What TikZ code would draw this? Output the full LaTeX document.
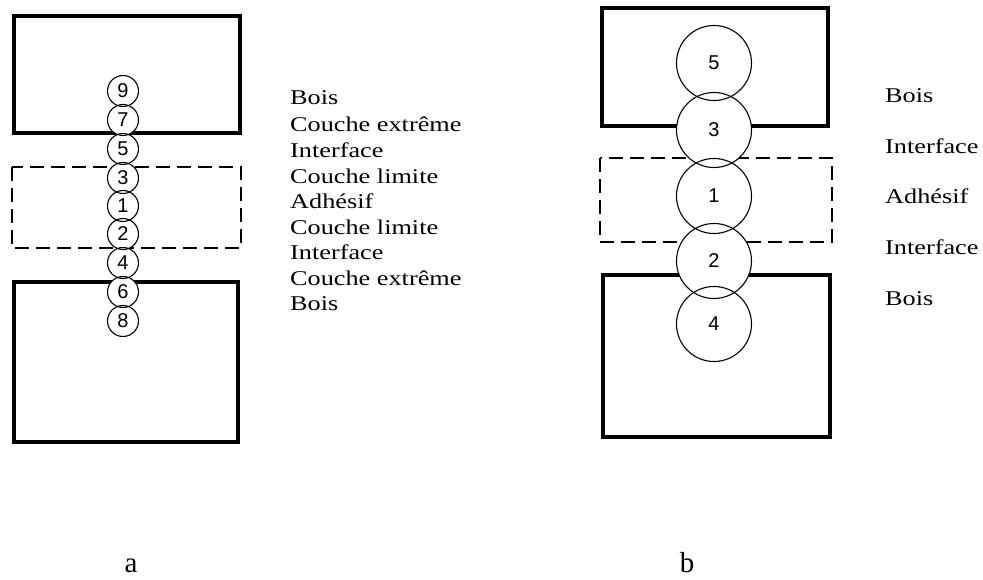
\documentclass[tikz,border=0pt]{standalone}
\usepackage{fontspec}
\setmainfont{Liberation Serif}
\newfontfamily\labfont[FakeStretch=1.25]{Liberation Serif}
\newfontfamily\numfont{Liberation Sans}
\begin{document}
\begin{tikzpicture}[x=1pt,y=-1pt,
  wood/.style={line width=3.2pt},
  adh/.style={line width=1.5pt, dash pattern=on 14pt off 7pt},
  smallc/.style={circle, draw, line width=1.1pt, minimum size=31pt, inner sep=0pt, font=\numfont\fontsize{20}{20}\selectfont},
  bigc/.style={circle, draw, line width=1.1pt, minimum size=75pt, inner sep=0pt, font=\numfont\fontsize{20}{20}\selectfont},
  lab/.style={anchor=west, inner sep=0pt, font=\labfont\fontsize{21}{21}\selectfont},
  paneltag/.style={anchor=base, inner sep=0pt, font=\fontsize{29}{29}\selectfont}]
\useasboundingbox (0,0) rectangle (983,580);
% ---------- panel a ----------
\draw[wood] (14,16) rectangle (240,133);
\draw[adh] (12,167) rectangle (241,248);
\draw[wood] (14,282) rectangle (238,442);
\foreach \yy in {91,120,149,178,206,234,263,292,321}
  \fill[white] (123,\yy) circle (15.5);
\node[smallc] (a9) at (123,91) {9};
\node[smallc] (a7) at (123,120) {7};
\node[smallc] (a5) at (123,149) {5};
\node[smallc] (a3) at (123,178) {3};
\node[smallc] (a1) at (123,206) {1};
\node[smallc] (a2) at (123,234) {2};
\node[smallc] (a4) at (123,263) {4};
\node[smallc] (a6) at (123,292) {6};
\node[smallc] (a8) at (123,321) {8};
\node[lab] (la1) at (290,98) {Bois};
\node[lab] (la2) at (290,124) {Couche extrême};
\node[lab] (la3) at (290,150) {Interface};
\node[lab] (la4) at (290,176) {Couche limite};
\node[lab] (la5) at (290,201) {Adhésif};
\node[lab] (la6) at (290,227) {Couche limite};
\node[lab] (la7) at (290,252) {Interface};
\node[lab] (la8) at (290,278) {Couche extrême};
\node[lab] (la9) at (290,304) {Bois};
\node[paneltag] (capa) at (131,572) {a};
% ---------- panel b ----------
\draw[wood] (602,8) rectangle (828,126);
\draw[adh] (600,158) rectangle (832,242);
\draw[wood] (603,275) rectangle (830,437);
\foreach \yy in {63,130,196,261,324}
  \fill[white] (714,\yy) circle (37.5);
\node[bigc] (b5) at (714,63) {5};
\node[bigc] (b3) at (714,130) {3};
\node[bigc] (b1) at (714,196) {1};
\node[bigc] (b2) at (714,261) {2};
\node[bigc] (b4) at (714,324) {4};
\node[lab] (lb1) at (885,96) {Bois};
\node[lab] (lb2) at (885,146) {Interface};
\node[lab] (lb3) at (885,196) {Adhésif};
\node[lab] (lb4) at (885,247) {Interface};
\node[lab] (lb5) at (885,299) {Bois};
\node[paneltag] (capb) at (687,572) {b};
\end{tikzpicture}
\end{document}
